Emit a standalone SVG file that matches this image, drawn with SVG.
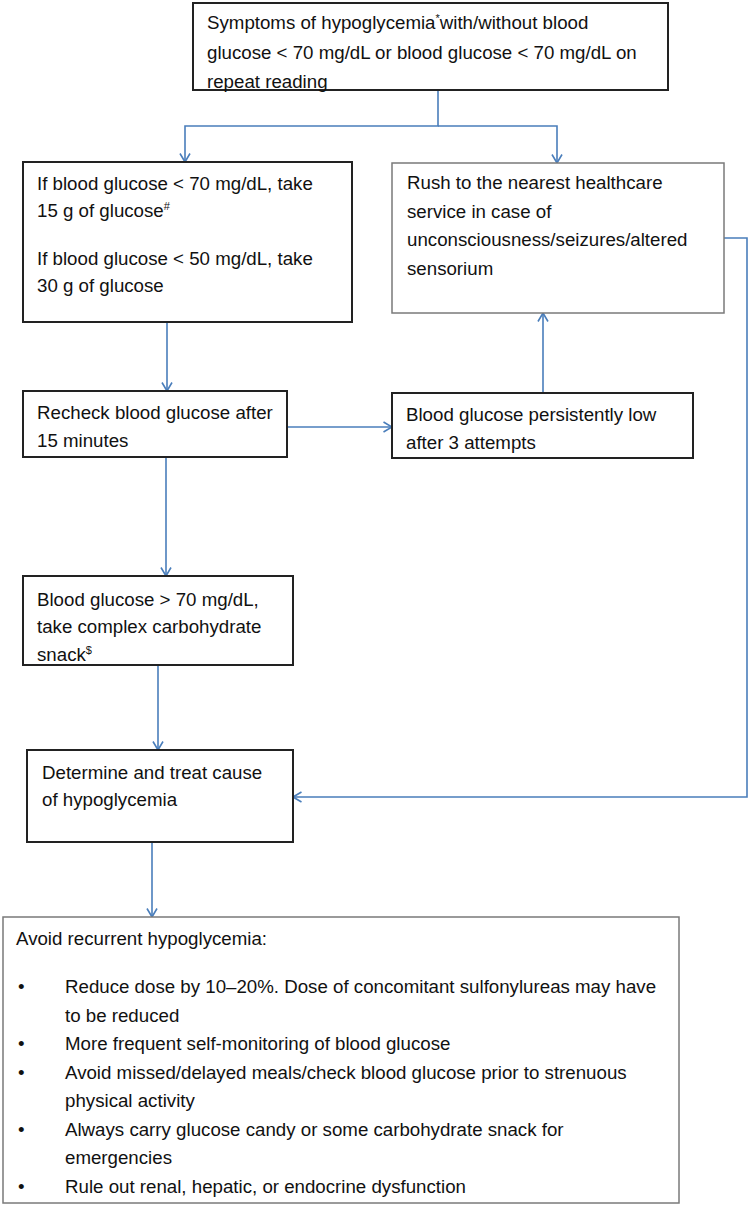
<svg xmlns="http://www.w3.org/2000/svg" width="750" height="1207" viewBox="0 0 750 1207">
<defs>
<style>
.box{fill:#fff;stroke:#222;stroke-width:2}
.boxl{fill:#fff;stroke:#7a7a7a;stroke-width:1.5}
.t{font-family:"Liberation Sans",Arial,sans-serif;font-size:18.7px;fill:#111}
.sup{font-size:11px}
.c{fill:none;stroke:#4a7ebb;stroke-width:1.6}
</style>
<marker id="ah" viewBox="0 0 10 12" refX="9.5" refY="6" markerWidth="10" markerHeight="12" markerUnits="userSpaceOnUse" orient="auto">
<path d="M1,1 L9.5,6 L1,11" fill="none" stroke="#4a7ebb" stroke-width="1.6"/>
</marker>
</defs>
<rect width="750" height="1207" fill="#fff"/>

<g id="connectors">
<path class="c" d="M438,90 V126 H185 V162" marker-end="url(#ah)"/>
<path class="c" d="M438,126 H557 V163" marker-end="url(#ah)"/>
<path class="c" d="M167,322 V391" marker-end="url(#ah)"/>
<path class="c" d="M287,427 H392" marker-end="url(#ah)"/>
<path class="c" d="M543,393 V313" marker-end="url(#ah)"/>
<path class="c" d="M166,457 V576" marker-end="url(#ah)"/>
<path class="c" d="M158,665 V750" marker-end="url(#ah)"/>
<path class="c" d="M724,238 H747 V797 H293" marker-end="url(#ah)"/>
<path class="c" d="M152,842 V917" marker-end="url(#ah)"/>
</g>

<g id="n-symptoms">
<rect class="box" x="193" y="3" width="475" height="87"/>
<text class="t" x="207" y="29">Symptoms of hypoglycemia<tspan class="sup" dy="-7">*</tspan><tspan dy="7">with/without blood</tspan></text>
<text class="t" x="207" y="58.5">glucose &lt; 70 mg/dL or blood glucose &lt; 70 mg/dL on</text>
<text class="t" x="207" y="88">repeat reading</text>
</g>

<g id="n-take-glucose">
<rect class="box" x="23" y="162" width="329" height="160"/>
<text class="t" x="37" y="190">If blood glucose &lt; 70 mg/dL, take</text>
<text class="t" x="37" y="217">15 g of glucose<tspan class="sup" dy="-7">#</tspan></text>
<text class="t" x="37" y="265">If blood glucose &lt; 50 mg/dL, take</text>
<text class="t" x="37" y="292">30 g of glucose</text>
</g>

<g id="n-rush">
<rect class="boxl" x="392" y="163" width="332" height="150"/>
<text class="t" x="407" y="189">Rush to the nearest healthcare</text>
<text class="t" x="407" y="217.5">service in case of</text>
<text class="t" x="407" y="246">unconsciousness/seizures/altered</text>
<text class="t" x="407" y="274.5">sensorium</text>
</g>

<g id="n-recheck">
<rect class="box" x="23" y="391" width="264" height="66"/>
<text class="t" x="37" y="419">Recheck blood glucose after</text>
<text class="t" x="37" y="447">15 minutes</text>
</g>

<g id="n-persistent">
<rect class="box" x="392" y="393" width="301" height="65"/>
<text class="t" x="406" y="421">Blood glucose persistently low</text>
<text class="t" x="406" y="449">after 3 attempts</text>
</g>

<g id="n-snack">
<rect class="box" x="23" y="576" width="270" height="89"/>
<text class="t" x="37" y="606">Blood glucose &gt; 70 mg/dL,</text>
<text class="t" x="37" y="633">take complex carbohydrate</text>
<text class="t" x="37" y="661">snack<tspan class="sup" dy="-7">$</tspan></text>
</g>

<g id="n-determine">
<rect class="box" x="27" y="750" width="266" height="92"/>
<text class="t" x="42" y="779">Determine and treat cause</text>
<text class="t" x="42" y="806">of hypoglycemia</text>
</g>

<g id="n-avoid">
<rect class="boxl" x="3" y="917" width="676" height="286"/>
<text class="t" x="16" y="945">Avoid recurrent hypoglycemia:</text>
<text class="t" x="18" y="993">•</text>
<text class="t" x="65" y="993">Reduce dose by 10–20%. Dose of concomitant sulfonylureas may have</text>
<text class="t" x="65" y="1021.5">to be reduced</text>
<text class="t" x="18" y="1050">•</text>
<text class="t" x="65" y="1050">More frequent self-monitoring of blood glucose</text>
<text class="t" x="18" y="1078.5">•</text>
<text class="t" x="65" y="1078.5">Avoid missed/delayed meals/check blood glucose prior to strenuous</text>
<text class="t" x="65" y="1107">physical activity</text>
<text class="t" x="18" y="1135.5">•</text>
<text class="t" x="65" y="1135.5">Always carry glucose candy or some carbohydrate snack for</text>
<text class="t" x="65" y="1164">emergencies</text>
<text class="t" x="18" y="1192.5">•</text>
<text class="t" x="65" y="1192.5">Rule out renal, hepatic, or endocrine dysfunction</text>
</g>
</svg>
